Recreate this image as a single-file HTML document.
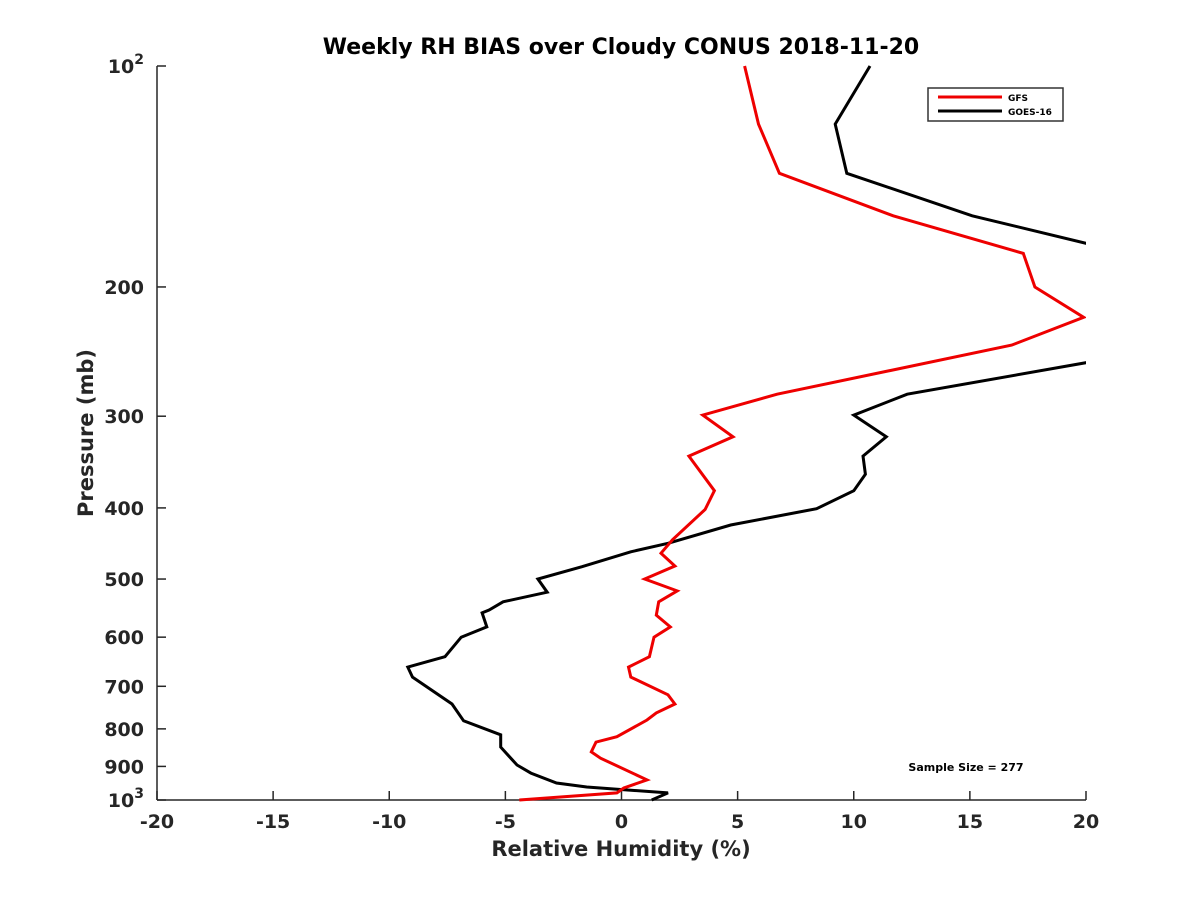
<!DOCTYPE html>
<html><head><meta charset="utf-8"><style>
html,body{margin:0;padding:0;background:#fff;}
svg{display:block;font-family:"DejaVu Sans","Liberation Sans",sans-serif;font-weight:bold;}
</style></head><body>
<svg id="chart" width="1200" height="900" viewBox="0 0 1200 900">
<defs><clipPath id="plotclip"><rect x="157" y="60" width="929" height="742"/></clipPath></defs>
<text x="621" y="54" text-anchor="middle" font-size="22" fill="#000">Weekly RH BIAS over Cloudy CONUS 2018-11-20</text>
<g id="axes"></g>
<g id="series" clip-path="url(#plotclip)"></g>
<g>
<rect x="928" y="88" width="135" height="33" fill="#fff" stroke="#333" stroke-width="1.5"/>
<line x1="938" y1="97" x2="1002" y2="97" stroke="#e00" stroke-width="3"/>
<text x="1008" y="101" font-size="9" fill="#000">GFS</text>
<line x1="938" y1="111" x2="1002" y2="111" stroke="#000" stroke-width="3"/>
<text x="1008" y="115" font-size="9" fill="#000">GOES-16</text>
</g>
<text x="966" y="771" text-anchor="middle" font-size="11" fill="#000">Sample Size = 277</text>
<text x="621" y="856" text-anchor="middle" font-size="21" fill="#262626">Relative Humidity (%)</text>
<text transform="translate(93,433) rotate(-90)" text-anchor="middle" font-size="21" fill="#262626">Pressure (mb)</text>
</svg>
<script>
const xTicks = [-20,-15,-10,-5,0,5,10,15,20];
const yTicks = [100,200,300,400,500,600,700,800,900,1000];
const yTickLabels = ["10^2","200","300","400","500","600","700","800","900","10^3"];
const gfsRH = [5.3,5.9,6.8,11.7,17.3,17.8,19.9,16.8,6.7,3.5,4.8,2.9,4.0,3.6,2.2,1.7,2.3,1.0,2.4,1.6,1.5,2.1,1.4,1.2,0.3,0.4,2.0,2.3,1.5,1.1,-0.2,-1.1,-1.3,-0.9,1.1,0.1,-0.2,-4.4];
const gfsP = [100,120,140,160,180,200,220,240,280,299,320,340,379,402,442,461,480,500,519,537,560,581,600,638,659,680,719,740,761,778,820,834,860,877,939,963,978,1000];
const goesRH = [10.7,9.2,9.7,15.1,20.2,22,22,20.2,12.3,10.0,11.4,10.4,10.5,10.0,8.4,4.7,2.0,0.4,-1.7,-3.6,-3.2,-5.1,-5.7,-6.0,-5.8,-6.9,-7.6,-9.2,-9.0,-7.3,-6.8,-5.2,-5.2,-4.5,-3.9,-2.8,-1.5,2.0,1.3];
const goesP = [100,120,140,160,175,190,240,253,280,299,320,340,360,379,401,422,447,459,481,500,521,537,551,556,581,600,638,659,680,740,780,815,847,896,919,948,960,978,1000];

const X0=157,X1=1086,Y0=66,Y1=800;
function xScale(v){return X0+(v+20)/40*(X1-X0);}
function yScale(p){return Y0+Math.log10(p/100)*(Y1-Y0);}
const NS="http://www.w3.org/2000/svg";
const axes=document.getElementById('axes');
const series=document.getElementById('series');
function mk(tag,attrs,parent){const e=document.createElementNS(NS,tag);for(const k in attrs)e.setAttribute(k,attrs[k]);parent.appendChild(e);return e;}

const yAxis=mk('line',{x1:X0,y1:Y0,x2:X0,y2:Y1,stroke:'#262626','stroke-width':1.5},axes);


const xAxis=mk('line',{x1:X0,y1:Y1,x2:X1,y2:Y1,stroke:'#262626','stroke-width':1.5},axes);



xTicks.forEach(v=>{
  const x=xScale(v);
  const t=mk('line',{x1:x,y1:Y1,x2:x,y2:Y1-9,stroke:'#262626','stroke-width':1.5},axes);
  
  
  const l=mk('text',{x:x,y:Y1+28,'text-anchor':'middle','font-size':19,fill:'#262626'},axes);
  l.textContent=String(v);
  
  
});
yTicks.forEach((p,i)=>{
  const y=yScale(p);
  const t=mk('line',{x1:X0,y1:y,x2:X0+9,y2:y,stroke:'#262626','stroke-width':1.5},axes);
  
  
  const lab=yTickLabels[i];
  const l=mk('text',{x:X0-13,y:y+7,'text-anchor':'end','font-size':19,fill:'#262626'},axes);
  if(lab.indexOf('^')>=0){
    const parts=lab.split('^');
    const a=mk('tspan',{},l); a.textContent=parts[0];
    const b=mk('tspan',{dy:-9,'font-size':14},l); b.textContent=parts[1];
  } else {
    l.textContent=lab;
  }
  
  
});

function drawLine(rh,p,color,name){
  const pts=rh.map((v,i)=>xScale(v).toFixed(1)+','+yScale(p[i]).toFixed(1)).join(' ');
  const pl=mk('polyline',{points:pts,fill:'none',stroke:color,'stroke-width':3,'stroke-linejoin':'miter'},series);
  
  
}
drawLine(goesRH,goesP,'#000','goes16-line');
drawLine(gfsRH,gfsP,'#e00','gfs-line');
</script>
</body></html>
